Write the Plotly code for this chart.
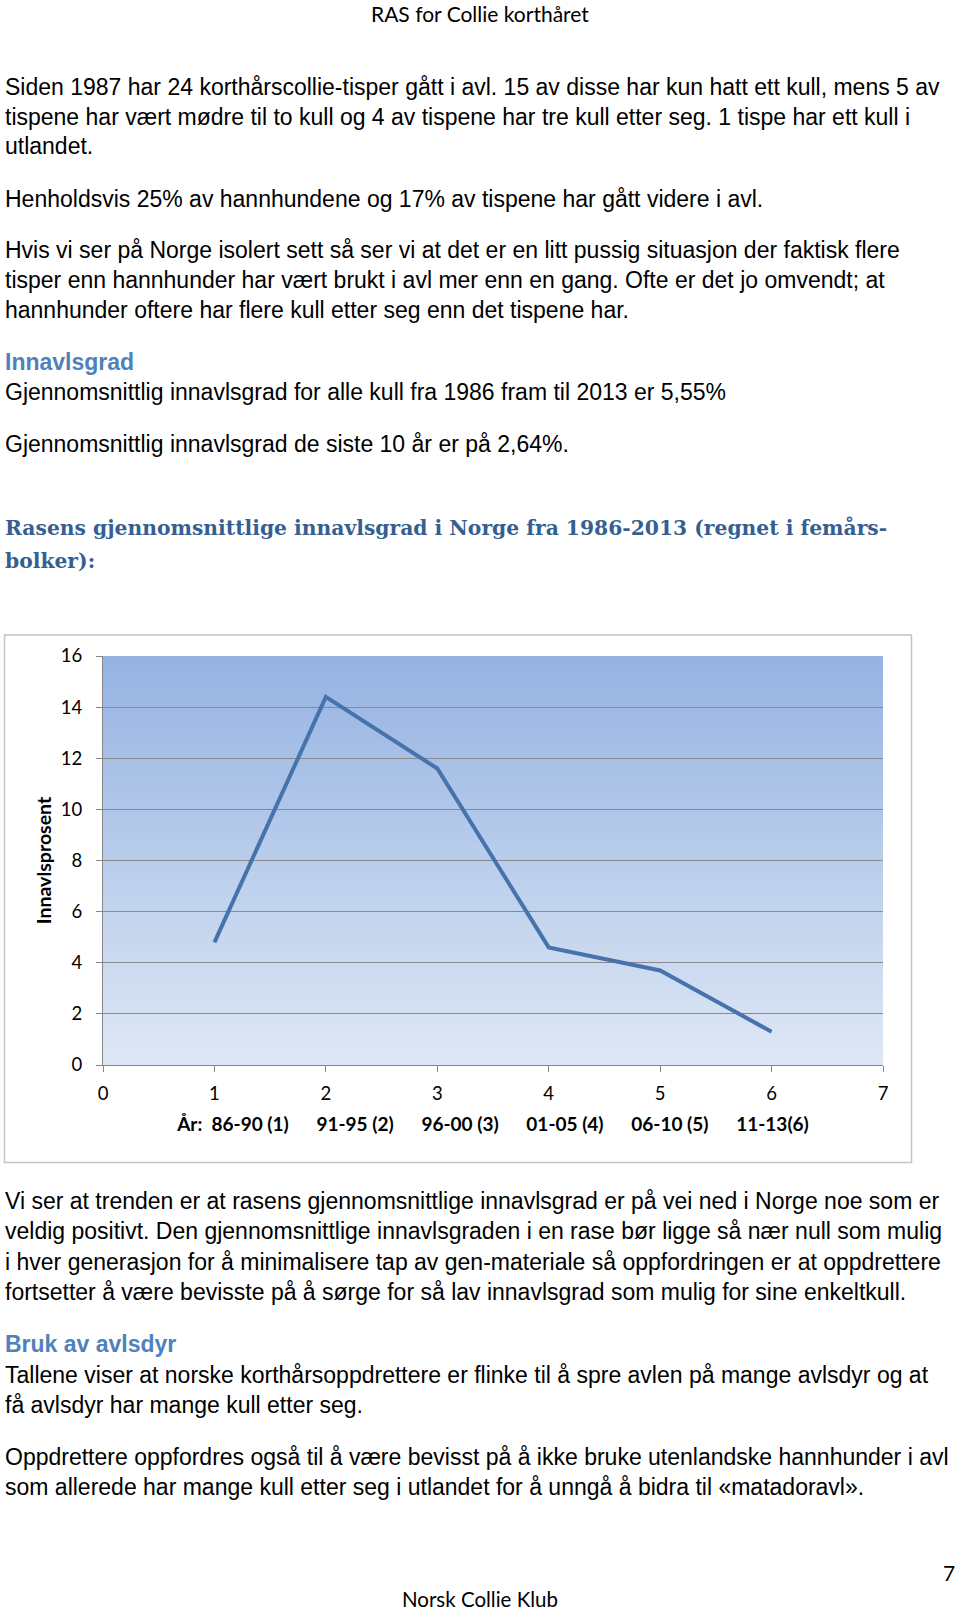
import plotly.graph_objects as go

# ---------------- data ----------------
periods = [1, 2, 3, 4, 5, 6]
innavl = [4.8, 14.4, 11.6, 4.6, 3.7, 1.3]
period_labels = ["86-90 (1)", "91-95 (2)", "96-00 (3)", "01-05 (4)", "06-10 (5)", "11-13(6)"]
y_ticks = [0, 2, 4, 6, 8, 10, 12, 14, 16]
x_ticks = [0, 1, 2, 3, 4, 5, 6, 7]

header = "RAS for Collie korthåret"
footer = "Norsk Collie Klub"
page_no = "7"

text_above = [
    ("Siden 1987 har 24 korthårscollie-tisper gått i avl. 15 av disse har kun hatt ett kull, mens 5 av", 86, "body"),
    ("tispene har vært mødre til to kull og 4 av tispene har tre kull etter seg. 1 tispe har ett kull i", 116, "body"),
    ("utlandet.", 145.5, "body"),
    ("Henholdsvis 25% av hannhundene og 17% av tispene har gått videre i avl.", 198, "body"),
    ("Hvis vi ser på Norge isolert sett så ser vi at det er en litt pussig situasjon der faktisk flere", 249.5, "body"),
    ("tisper enn hannhunder har vært brukt i avl mer enn en gang. Ofte er det jo omvendt; at", 279.5, "body"),
    ("hannhunder oftere har flere kull etter seg enn det tispene har.", 309.5, "body"),
    ("Innavlsgrad", 361.5, "head"),
    ("Gjennomsnittlig innavlsgrad for alle kull fra 1986 fram til 2013 er 5,55%", 392, "body"),
    ("Gjennomsnittlig innavlsgrad de siste 10 år er på 2,64%.", 443.5, "body"),
    ("Rasens gjennomsnittlige innavlsgrad i Norge fra 1986-2013 (regnet i femårs-", 528, "title"),
    ("bolker):", 561, "title"),
]
text_below = [
    ("Vi ser at trenden er at rasens gjennomsnittlige innavlsgrad er på vei ned i Norge noe som er", 1201.5, "body"),
    ("veldig positivt. Den gjennomsnittlige innavlsgraden i en rase bør ligge så nær null som mulig", 1232, "body"),
    ("i hver generasjon for å minimalisere tap av gen-materiale så oppfordringen er at oppdrettere", 1262.5, "body"),
    ("fortsetter å være bevisste på å sørge for så lav innavlsgrad som mulig for sine enkeltkull.", 1293, "body"),
    ("Bruk av avlsdyr", 1344.5, "head"),
    ("Tallene viser at norske korthårsoppdrettere er flinke til å spre avlen på mange avlsdyr og at", 1375.5, "body"),
    ("få avlsdyr har mange kull etter seg.", 1406, "body"),
    ("Oppdrettere oppfordres også til å være bevisst på å ikke bruke utenlandske hannhunder i avl", 1457.5, "body"),
    ("som allerede har mange kull etter seg i utlandet for å unngå å bidra til «matadoravl».", 1488, "body"),
]

# ---------------- layout geometry (pixels) ----------------
W, H = 960, 1613
PL, PR, PT, PB = 103, 883, 656, 1065.5  # plot area edges


def px(x):
    return (x - PL) / (PR - PL)


def py(y):
    return (PB - y) / (PB - PT)


fig = go.Figure()
fig.add_trace(go.Scatter(
    x=periods, y=innavl, mode="lines",
    line=dict(color="#4673AC", width=4),
    hoverinfo="skip", showlegend=False,
))

# gradient plot background as overlapping horizontal bands (avoids seams)
shapes = []
top = (149, 179, 226)
bot = (222, 231, 245)
N = 140
for i in range(N):
    t = i / (N - 1)
    c = tuple(round(top[k] + (bot[k] - top[k]) * t) for k in range(3))
    y_hi = 1 - i / N
    y_lo = max(0.0, 1 - (i + 2) / N) if i < N - 1 else 0.0
    shapes.append(dict(
        type="rect", xref="x domain", yref="y domain",
        x0=0, x1=1, y0=y_lo, y1=y_hi,
        fillcolor="rgb(%d,%d,%d)" % c, line=dict(width=0), layer="below",
    ))
# chart frame
shapes.append(dict(
    type="rect", xref="paper", yref="paper",
    x0=px(4.5), x1=px(911.5), y0=py(635), y1=py(1163),
    line=dict(color="#C4C4C4", width=1.5), fillcolor="rgba(0,0,0,0)", layer="below",
))

annotations = []
fonts = {
    "body": dict(family="Liberation Sans, Arial, sans-serif", size=23, color="#000000"),
    "head": dict(family="Liberation Sans, Arial, sans-serif", size=23, color="#4F81BD"),
    "title": dict(family="DejaVu Serif, serif", size=20.3, color="#365F91"),
}
for txt, yc, kind in text_above + text_below:
    t = "<b>%s</b>" % txt if kind in ("head", "title") else txt
    annotations.append(dict(
        text=t, x=px(3), y=py(yc), xref="paper", yref="paper",
        xanchor="left", yanchor="middle", showarrow=False, align="left",
        font=fonts[kind],
    ))
annotations.append(dict(
    text=header, x=px(480), y=py(12.5), xref="paper", yref="paper",
    xanchor="center", yanchor="middle", showarrow=False,
    font=dict(family="Lato, sans-serif", size=21, color="#000000"),
))
annotations.append(dict(
    text=footer, x=px(480), y=py(1600.5), xref="paper", yref="paper",
    xanchor="center", yanchor="middle", showarrow=False,
    font=dict(family="Lato, sans-serif", size=20.5, color="#000000"),
))
annotations.append(dict(
    text=page_no, x=px(957), y=py(1574), xref="paper", yref="paper",
    xanchor="right", yanchor="middle", showarrow=False,
    font=dict(family="Lato, sans-serif", size=21, color="#000000"),
))

x_title = "År:  " + "      ".join(period_labels)

fig.update_layout(
    width=W, height=H,
    margin=dict(l=PL, r=W - PR, t=PT, b=H - PB, pad=0, autoexpand=False),
    paper_bgcolor="white", plot_bgcolor="rgba(0,0,0,0)",
    shapes=shapes, annotations=annotations,
    font=dict(family="Lato, sans-serif", color="#000000"),
    xaxis=dict(
        range=[0, 7], tickvals=x_ticks, ticktext=[str(v) for v in x_ticks],
        showgrid=False, zeroline=False, showline=True, linecolor="#868686", linewidth=1,
        ticks="outside", ticklen=6, tickcolor="#868686",
        ticklabelstandoff=6,
        tickfont=dict(family="Lato, sans-serif", size=18.5),
        title=dict(text="<b>%s</b>" % x_title, font=dict(family="Lato, sans-serif", size=19), standoff=14),
        fixedrange=True,
    ),
    yaxis=dict(
        range=[0, 16], tickvals=y_ticks, ticktext=[str(v) for v in y_ticks],
        showgrid=True, gridcolor="#8A8A8A", gridwidth=1, zeroline=False,
        showline=True, linecolor="#868686", linewidth=1,
        ticks="outside", ticklen=6, tickcolor="#868686",
        ticklabelstandoff=10,
        tickfont=dict(family="Lato, sans-serif", size=18.5),
        title=dict(text="<b>Innavlsprosent</b>", font=dict(family="Lato, sans-serif", size=19.5), standoff=4),
        fixedrange=True,
    ),
)

fig.write_html(
    "out.html",
    config={"displayModeBar": False},
    post_script="document.body.style.margin='0';document.body.style.overflow='hidden';",
)
